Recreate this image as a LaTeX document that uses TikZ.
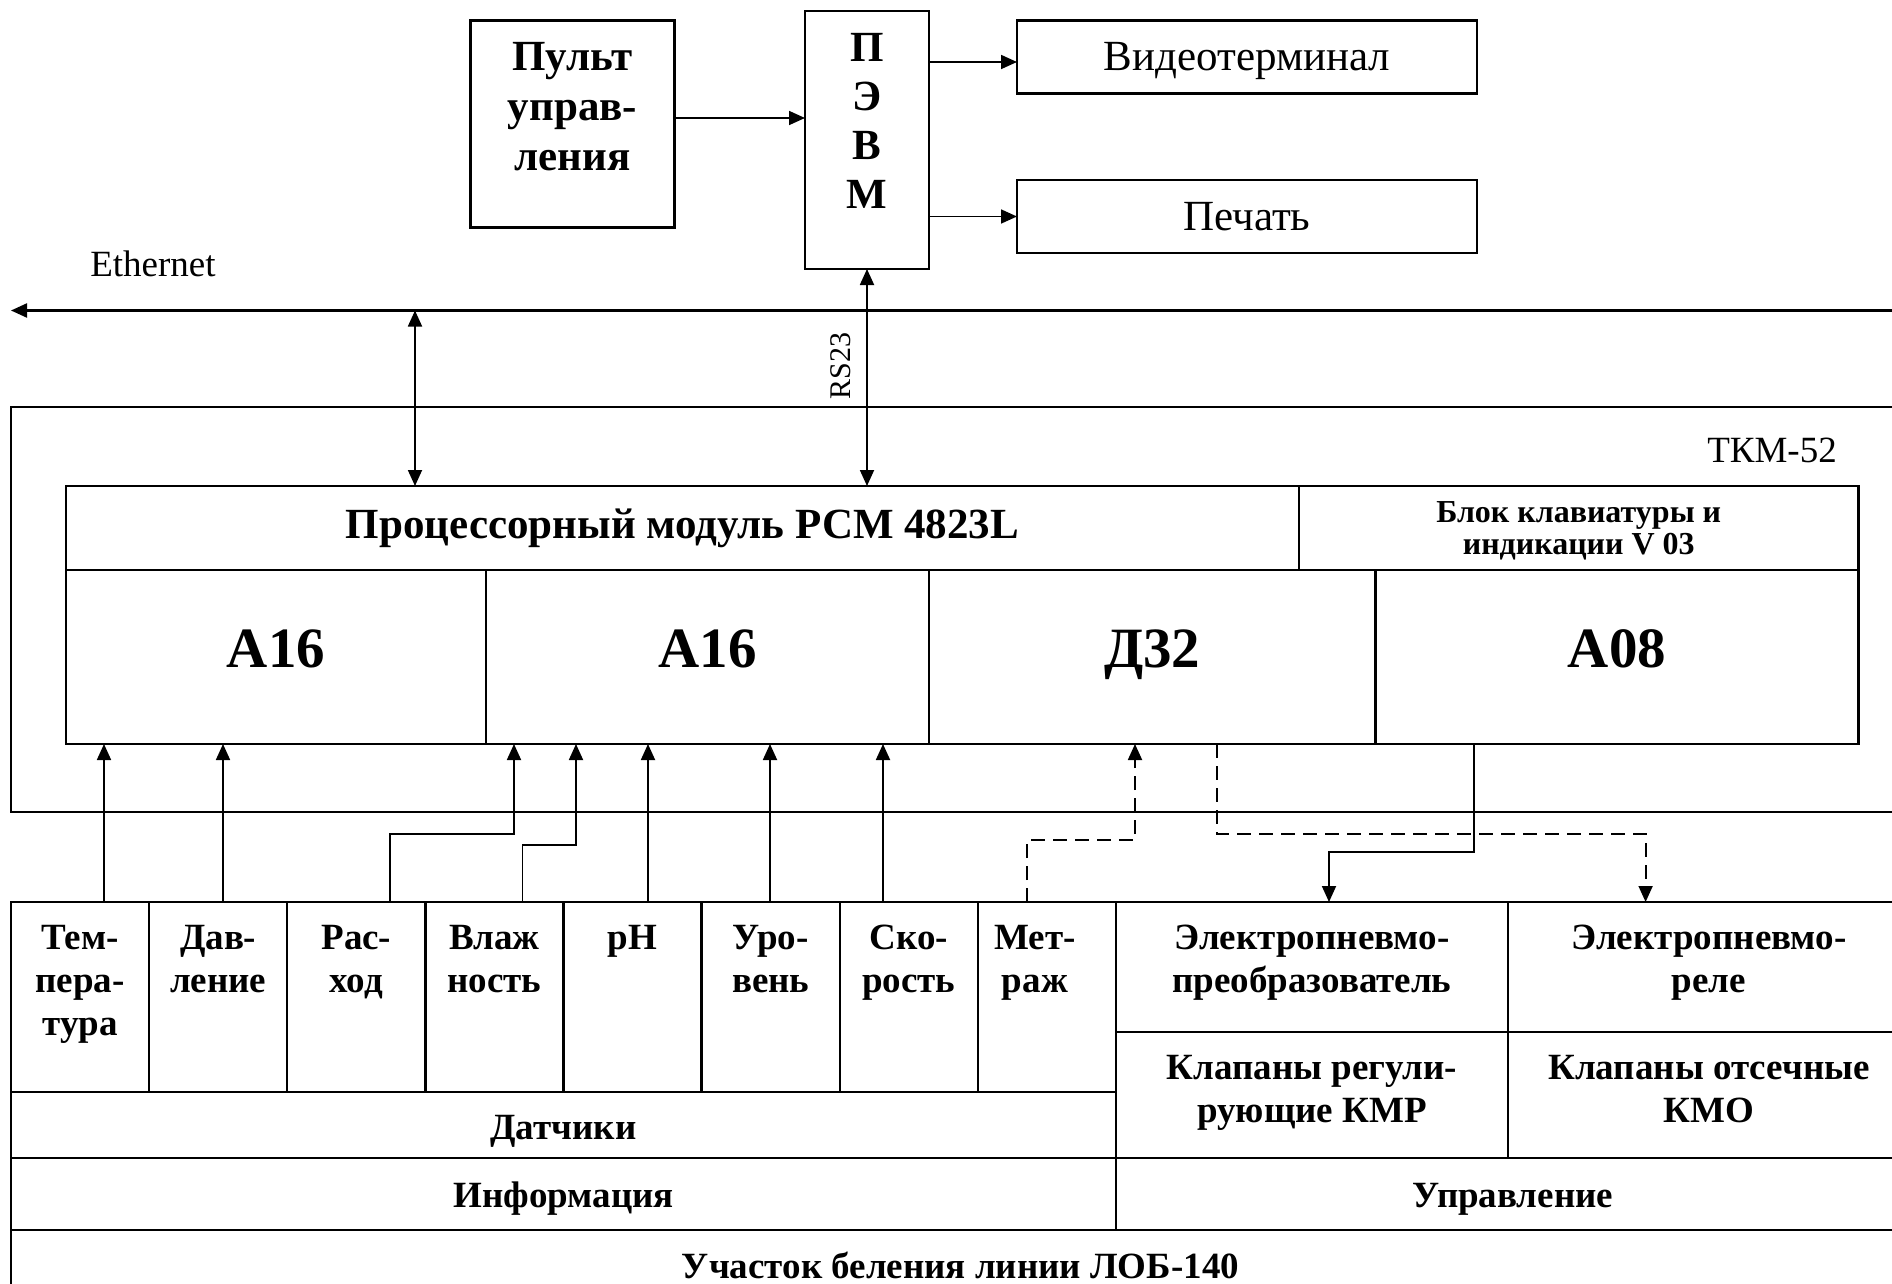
\documentclass[tikz,border=0pt]{standalone}
\usepackage{fontspec}
\setmainfont{Liberation Serif}
\usetikzlibrary{arrows.meta,calc}
\tikzset{
  blk/.style={draw, line width=1.1pt, inner sep=0pt, outer sep=0pt},
  cell/.style={draw, line width=1.2pt, inner sep=0pt, outer sep=0pt},
  arr/.style={line width=0.9pt, -{Triangle[length=8pt,width=7pt]}},
  darr/.style={line width=0.9pt, {Triangle[length=8pt,width=7pt]}-{Triangle[length=8pt,width=7pt]}},
  dsh/.style={dash pattern=on 7pt off 4pt},
  bt/.style={font=\fontsize{18.5}{21.5}\selectfont\bfseries, align=center, inner sep=0pt},
  big/.style={font=\fontsize{21.5}{25}\selectfont\bfseries, align=center, inner sep=0pt},
  mod/.style={font=\fontsize{28.5}{32}\selectfont\bfseries, inner sep=0pt},
  rm/.style={font=\fontsize{18.5}{22}\selectfont, inner sep=0pt}
}

\begin{document}
\begin{tikzpicture}[x=0.5pt,y=-0.5pt]
  %%%%% START %%%%%
  \useasboundingbox (0,0) rectangle (1892,1284);

  % upper part
  \node[blk, minimum width=102pt, minimum height=103.5pt] (pult) at (572.5,124) {};
  \node[big] (pult-t) at (572.5,107) {Пульт\\управ-\\ления};
  \node[blk, minimum width=62pt, minimum height=129pt] (pevm) at (867,140) {};
  \node[big, font=\fontsize{21.5}{24.5}\selectfont\bfseries] (pevm-t) at (867,121) {П\\Э\\В\\М};
  \node[blk, minimum width=230pt, minimum height=36.5pt, text depth=1pt, font=\fontsize{21.5}{25}\selectfont] (video) at (1247,57) {Видеотерминал};
  \node[blk, minimum width=230pt, minimum height=36.5pt, font=\fontsize{21.5}{25}\selectfont] (print) at (1247,216.5) {Печать};

  \draw[arr] ($(pult.east)+(0,-6)$) coordinate (pa) -- (pa -| pevm.west);
  \draw[arr] ($(pevm.east |- video.west)+(0,5)$) -- ($(video.west)+(0,5)$);
  \draw[arr] (pevm.east |- print.west) -- (print.west);

  % Ethernet
  \coordinate (ethR) at (1910,310.5);
  \coordinate (ethL) at (11,310.5);
  \coordinate (ethA) at (415,310.5);
  \draw[arr, line width=1.1pt] (ethR) -- (ethL);
  \node[rm] (eth) at (153,264) {Ethernet};

  % TKM-52
  \node[cell, minimum width=949.5pt, minimum height=202.5pt] (tkm) at (960.5,609.5) {};
  \node[rm] (tkm-t) at (1772,450) {ТКМ-52};
  \node[blk, minimum width=616.5pt, minimum height=42pt, font=\fontsize{21.5}{26}\selectfont\bfseries] (cpu) at (682.5,528) {Процессорный модуль РСМ 4823L};
  \node[blk, minimum width=279.75pt, minimum height=42pt, align=center, text depth=0pt, font=\fontsize{16}{16}\selectfont\bfseries] (kbd) at (1578.75,528) {Блок клавиатуры и\\индикации V 03};
  \foreach \n/\x/\w/\y/\t in {ma/276/210/649/A16, mb/707.5/221.5/649/A16, md/1152.25/223.25/655/Д32, me/1617/241.5/649/A08}{
    \node[blk, minimum width=\w pt, minimum height=87pt] (\n) at (\x,657) {};
    \node[mod] (\n-t) at (\x,\y) {\t};
  }

  \draw[darr] (ethA) -- (ethA |- cpu.north);
  \draw[darr] (pevm.south) -- (pevm.south |- cpu.north);
  \node[rotate=90, font=\fontsize{15}{18}\selectfont, inner sep=0pt] (rs) at (841,366) {RS23};

  % table
  \foreach \t/\d [count=\i] in {{Тем-\\пера-\\тура}/0,{Дав-\\ление}/0,{Рас-\\ход}/0,{Влаж\\ность}/0,{pH}/0,{Уро-\\вень}/0,{Ско-\\рость}/0,{Мет-\\раж}/-12}{
    \node[cell, minimum width=69.0625pt, minimum height=95pt] (s\i) at ({11+138.125*(\i-0.5)},997) {};
    \node[bt, anchor=north] (s\i-t) at ({11+138.125*(\i-0.5)+\d},925) {\t};
  }
  \node[cell, minimum width=552.5pt, minimum height=33pt] (dat) at (563.5,1125) {};
  \node[bt] (dat-t) at (563.5,1131.5) {Датчики};
  \node[cell, minimum width=552.5pt, minimum height=36pt] (inf) at (563.5,1194) {};
  \node[bt] (inf-t) at (563.5,1199) {Информация};
  \node[cell, minimum width=196pt, minimum height=65pt] (epr) at (1312,967) {};
  \node[bt, anchor=north] (epr-t) at (1312,925) {Электропневмо-\\преобразователь};
  \node[cell, minimum width=201pt, minimum height=65pt] (erel) at (1709,967) {};
  \node[bt, anchor=north] (erel-t) at (1709,925) {Электропневмо-\\реле};
  \node[cell, minimum width=196pt, minimum height=63pt] (kmr) at (1312,1095) {};
  \node[bt, anchor=north] (kmr-t) at (1312,1055) {Клапаны регули-\\рующие КМР};
  \node[cell, minimum width=201pt, minimum height=63pt] (kmo) at (1709,1095) {};
  \node[bt, anchor=north] (kmo-t) at (1709,1055) {Клапаны отсечные\\КМО};
  \node[cell, minimum width=397pt, minimum height=36pt] (upr) at (1513,1194) {};
  \node[bt] (upr-t) at (1513,1199) {Управление};
  \node[cell, bt, minimum width=949.5pt, minimum height=35pt] (uch) at (960.5,1265) {Участок беления линии ЛОБ-140};

  % signals
  \foreach \x in {104,223,648,770,883}
    \draw[arr] (\x,0 |- s1.north) -- (\x,0 |- ma.south);
  \draw[arr] (390,0 |- s3.north) |- (514,834) -- (514,0 |- mb.south);
  \draw[arr] (522.5,0 |- s4.north) |- (576,845) -- (576,0 |- mb.south);
  \draw[arr, dsh] (1027,0 |- s8.north) |- (1135,840) -- (1135,0 |- md.south);
  \draw[arr, dsh] (1217,0 |- md.south) |- (1645.6,834) -- (1645.6,0 |- erel.north);
  \draw[arr] (1474,0 |- me.south) |- (1329,852) -- (1329,0 |- epr.north);
  %%%%% END %%%%%
\end{tikzpicture}
\end{document}
